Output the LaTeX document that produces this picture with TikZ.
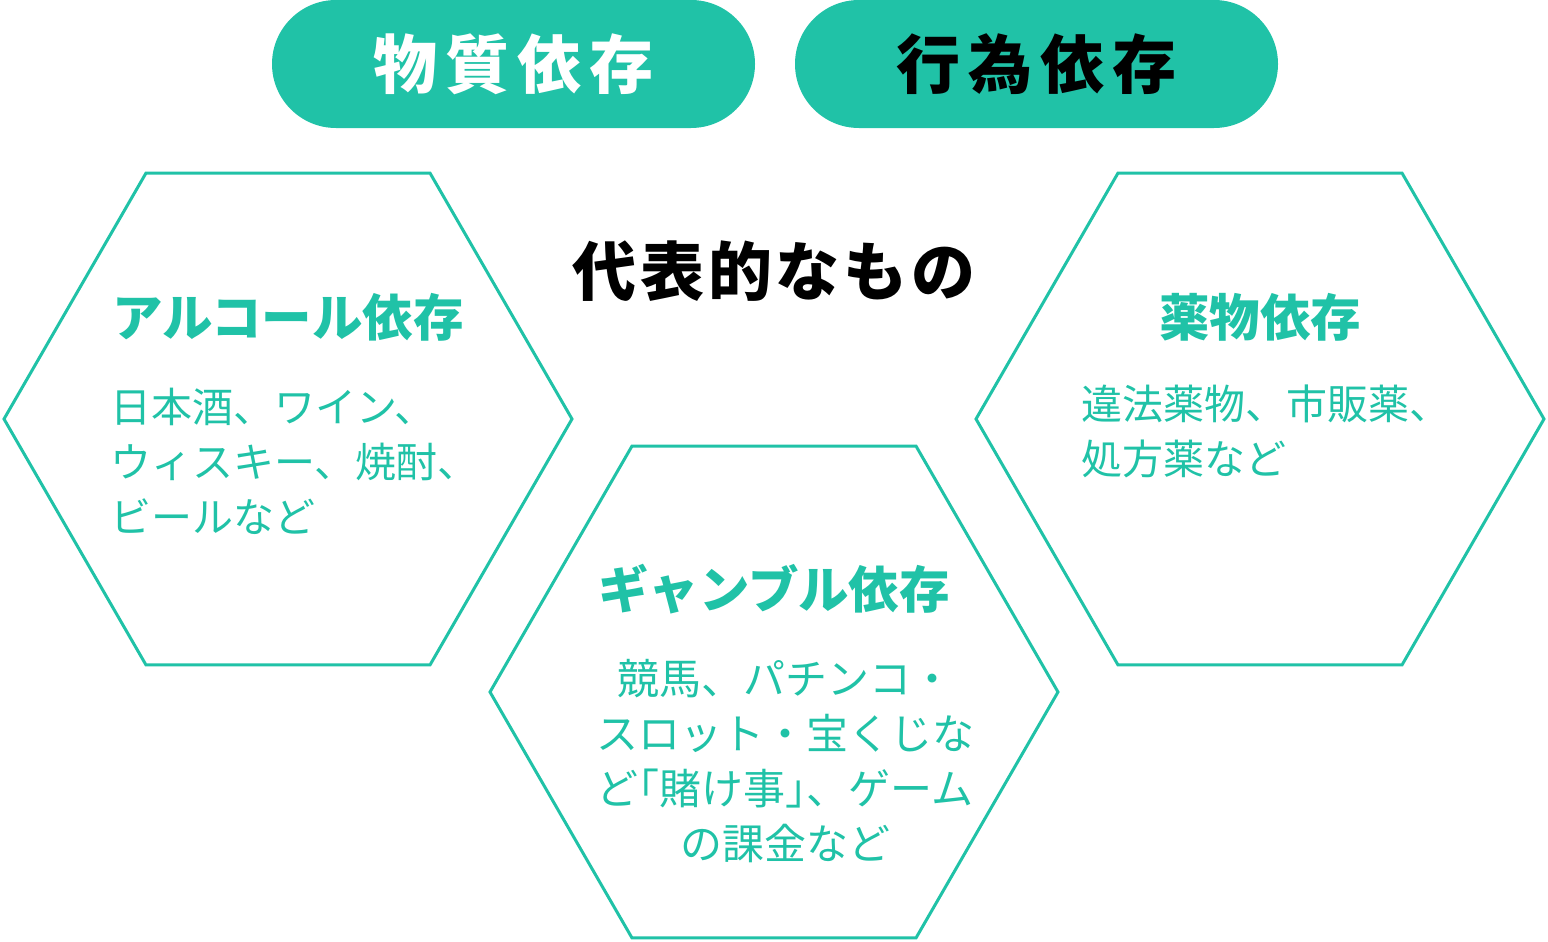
\documentclass[tikz,border=0pt]{standalone}
\usepackage{fontspec}
\usetikzlibrary{positioning,shapes.geometric}
\setmainfont{Noto Sans CJK JP}
\definecolor{mint}{HTML}{20C2A7}

\begin{document}
\begin{tikzpicture}[x=1pt,y=-1pt,
  pill/.style = {fill=mint, rounded corners=64pt, minimum width=483pt, minimum height=128pt, inner sep=0pt, outer sep=0pt, font=\fontsize{64}{64}\bfseries\addfontfeature{LetterSpace=13}},
  hexa/.style = {draw=mint, line width=3pt, regular polygon, regular polygon sides=6, minimum size=568pt, inner sep=0pt},
  head/.style = {text=mint, inner sep=0pt, font=\fontsize{50.5}{50.5}\bfseries},
  body/.style = {text=mint, inner sep=0pt, font=\fontsize{41}{55}\selectfont}]
\useasboundingbox (0,0) rectangle (1548,942);
\node[pill, text=white] (subst) at (513.5,64) {物質依存};
\node[pill, text=black] (behav) [right=40pt of subst] {行為依存};
\node[inner sep=0pt, font=\fontsize{64}{64}\bfseries\addfontfeature{LetterSpace=6}] (typ) at (774,271) {代表的なもの};
\node[hexa] (alc) at (288,419) {};
\node[hexa] (gam) at (774,692) {};
\node[hexa] (drug) at (1260,419) {};
\node[head] (alct) at (288,317) {アルコール依存};
\node[head] (gamt) at (774,589) {ギャンブル依存};
\node[head] (drugt) at (1260,317) {薬物依存};
\node[body, align=left, anchor=west] (alcb) at (110,461) {日本酒、ワイン、\\ウィスキー、焼酎、\\ビールなど};
\node[body, align=center, font=\fontsize{42}{55}\selectfont] (gamb) at (785,761) {競馬、パチンコ・\\スロット・宝くじな\\ど\kern-.5em「賭け事」\kern-.5em、ゲーム\\の課金など};
\node[body, align=left, anchor=west] (drugb) at (1081,431) {違法薬物、市販薬、\\処方薬など};
\end{tikzpicture}
\end{document}
